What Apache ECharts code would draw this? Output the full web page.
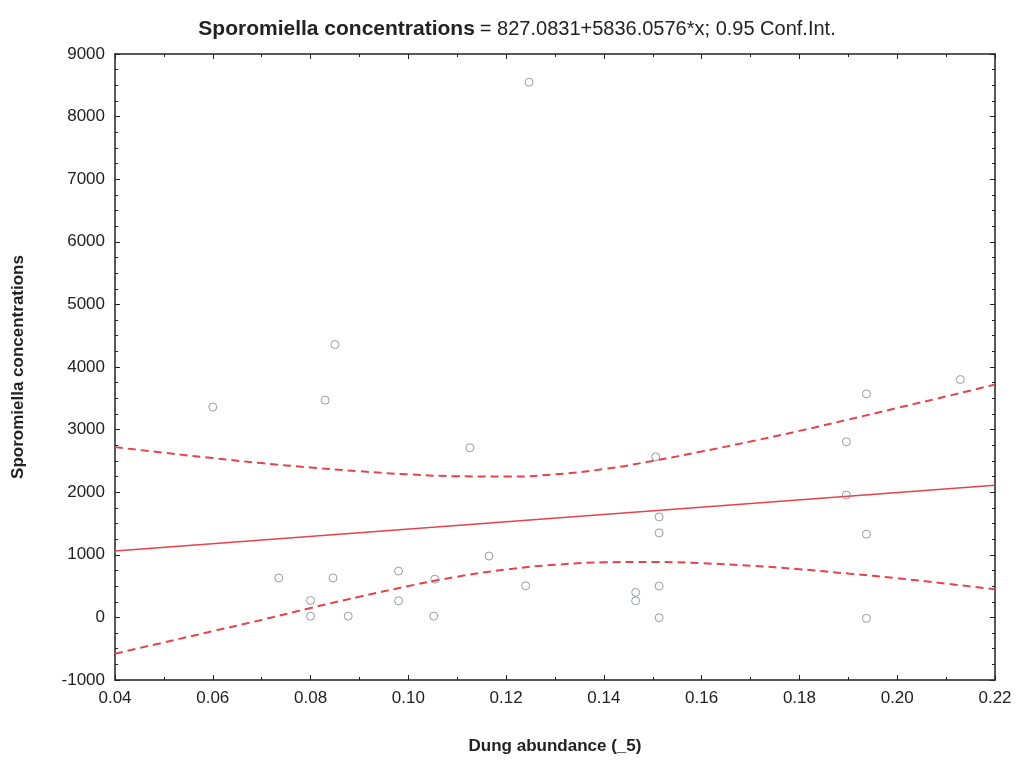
<!DOCTYPE html>
<html><head><meta charset="utf-8">
<script src="https://cdn.jsdelivr.net/npm/echarts@6/dist/echarts.min.js"></script>
<style>html,body{margin:0;padding:0;background:#fff}#c{width:1018px;height:762px}</style>
</head><body><div id="c"></div>
<script>
// Observed data (Dung abundance, Sporomiella concentrations)
const dungAbundance = [0.060,0.0735,0.080,0.080,0.083,0.085,0.0846,0.0877,0.098,0.098,0.1054,0.1052,0.1126,0.1165,0.124,0.1247,0.1506,0.1513,0.1513,0.1513,0.1513,0.1465,0.1465,0.1896,0.1896,0.1937,0.1937,0.1937,0.2129];
const sporomiella   = [3360,630,270,20,3470,4360,630,20,740,265,610,20,2710,980,505,8550,2565,1605,1350,500,-5,400,265,2805,1955,3570,1330,-15,3800];
// Regression line (from title equation) endpoints
const fitX = [0.04,0.22];
const fitY = [1060.5,2111.0];
// 0.95 confidence band
const bandX = [0.04,0.05,0.06,0.07,0.08,0.09,0.10,0.11,0.12,0.13,0.14,0.15,0.16,0.17,0.18,0.19,0.20,0.21,0.22];
const upperCI = [2720,2630,2545,2465,2395,2335,2285,2255,2250,2285,2370,2500,2650,2810,2980,3160,3345,3530,3720];
const lowerCI = [-580,-400,-220,-40,150,330,500,650,765,840,880,885,865,825,770,700,625,540,450];
// Axis ticks
const xTicks = [0.04,0.06,0.08,0.10,0.12,0.14,0.16,0.18,0.20,0.22];
const yTicks = [-1000,0,1000,2000,3000,4000,5000,6000,7000,8000,9000];

const zip = (a,b)=>a.map((v,i)=>[v,b[i]]);
const font = '"Liberation Sans Narrow","Liberation Sans",Arial,sans-serif';
const red = '#e5434b';
const chart = echarts.init(document.getElementById('c'));
const baseX = {type:'value',min:xTicks[0],max:xTicks[xTicks.length-1],interval:0.02,
  axisLine:{show:true,onZero:false,lineStyle:{color:'#222',width:1.5}},
  axisTick:{show:true,inside:true,length:5,lineStyle:{color:'#222'}},
  minorTick:{show:true,splitNumber:2,length:3,lineStyle:{color:'#222'}},
  splitLine:{show:false}};
const baseY = {type:'value',min:yTicks[0],max:yTicks[yTicks.length-1],interval:1000,
  axisLine:{show:true,onZero:false,lineStyle:{color:'#222',width:1.5}},
  axisTick:{show:true,inside:true,length:5,lineStyle:{color:'#222'}},
  minorTick:{show:true,splitNumber:4,length:3,lineStyle:{color:'#222'}},
  splitLine:{show:false}};
chart.setOption({
  animation:false,
  backgroundColor:'#fff',
  title:{text:'{b|Sporomiella concentrations} {n|= 827.0831+5836.0576*x; 0.95 Conf.Int.}',
    left:512,top:14,textAlign:'center',
    textStyle:{rich:{b:{fontFamily:font,fontWeight:'bold',fontSize:21,color:'#222'},
                     n:{fontFamily:font,fontWeight:'normal',fontSize:20,color:'#222'}}}},
  grid:{left:115,right:23,top:54,bottom:82},
  xAxis:[
    Object.assign({},baseX,{position:'bottom',name:'Dung abundance (_5)',nameLocation:'middle',nameGap:58,
      nameTextStyle:{fontFamily:font,fontWeight:'bold',fontSize:17,color:'#222'},
      axisLabel:{fontFamily:font,fontSize:17,color:'#222',margin:10,formatter:v=>v.toFixed(2)}}),
    Object.assign({},baseX,{position:'top',axisLabel:{show:false}})
  ],
  yAxis:[
    Object.assign({},baseY,{position:'left',name:'Sporomiella concentrations',nameLocation:'middle',nameGap:88,
      nameTextStyle:{fontFamily:font,fontWeight:'bold',fontSize:17,color:'#222'},
      axisLabel:{fontFamily:font,fontSize:17,color:'#222',margin:10,formatter:v=>String(v)}}),
    Object.assign({},baseY,{position:'right',axisLabel:{show:false}})
  ],
  series:[
    {type:'line',data:zip(bandX,upperCI),smooth:true,symbol:'none',lineStyle:{color:red,width:2,type:[8,5]},z:2},
    {type:'line',data:zip(bandX,lowerCI),smooth:true,symbol:'none',lineStyle:{color:red,width:2,type:[8,5]},z:2},
    {type:'line',data:zip(fitX,fitY),symbol:'none',lineStyle:{color:red,width:1.5},z:3},
    {type:'scatter',data:zip(dungAbundance,sporomiella),symbol:'circle',symbolSize:8,
      itemStyle:{color:'rgba(255,255,255,0)',borderColor:'#7d8290',borderWidth:1},z:4}
  ]
});
</script></body></html>
